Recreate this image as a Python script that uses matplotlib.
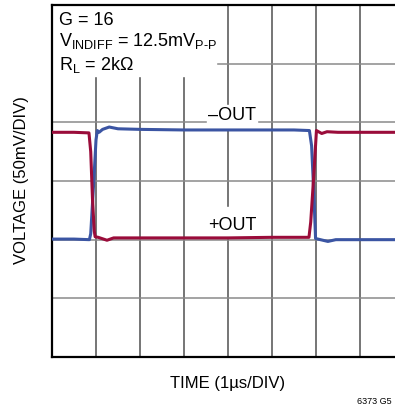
import matplotlib
matplotlib.use("Agg")
import matplotlib.pyplot as plt

plt.rcParams['font.family'] = ['Liberation Sans', 'DejaVu Sans']
plt.rcParams['mathtext.fontset'] = 'custom'
plt.rcParams['mathtext.rm'] = 'Liberation Sans'
plt.rcParams['mathtext.it'] = 'Liberation Sans'

# time in divisions (1us/DIV), voltage in divisions (50mV/DIV)
t_neg = [0.0, 0.5, 0.85, 0.88, 0.95, 1.0, 1.03, 1.07, 1.15, 1.3, 1.5, 2.0, 3.0,
         4.0, 5.0, 5.5, 5.85, 5.9, 5.95, 5.99, 6.1, 6.27, 6.45, 7.0, 8.0]
v_neg = [2.01, 2.01, 2.00, 2.10, 3.00, 3.70, 3.86, 3.83, 3.88, 3.92, 3.89, 3.88, 3.87,
         3.87, 3.87, 3.87, 3.86, 3.60, 2.80, 2.02, 2.00, 1.97, 2.00, 2.00, 2.00]

t_pos = [0.0, 0.5, 0.84, 0.88, 0.92, 0.96, 0.98, 1.05, 1.25, 1.4, 2.0, 3.0,
         4.0, 5.0, 5.5, 5.84, 5.88, 5.95, 6.01, 6.13, 6.25, 6.5, 7.0, 8.0]
v_pos = [3.83, 3.83, 3.82, 3.50, 2.70, 2.15, 2.05, 2.04, 1.99, 2.03, 2.03, 2.03,
         2.03, 2.04, 2.04, 2.04, 2.30, 3.10, 3.86, 3.81, 3.84, 3.83, 3.83, 3.83]

blue = '#3b55a3'
red = '#9a0c3a'

fig = plt.figure(figsize=(3.95, 4.10), dpi=100)
ax = fig.add_axes([52/395, 52/410, 352/395, 352/410])
ax.set_xlim(0, 8)
ax.set_ylim(0, 6)

for x in range(1, 8):
    ax.axvline(x, color='#505050', lw=1.1, zorder=1)
for y in range(1, 6):
    ax.axhline(y, color='#8a8a8a', lw=1.1, zorder=1)

ax.plot(t_neg, v_neg, color=blue, lw=2.2, zorder=3, solid_joinstyle='round')
ax.plot(t_pos, v_pos, color=red, lw=2.2, zorder=4, solid_joinstyle='round')

ax.set_xticks([])
ax.set_yticks([])
for s in ['left', 'bottom', 'top']:
    ax.spines[s].set_linewidth(1.6)
ax.spines['right'].set_visible(False)

# white patches behind the labels
ax.add_patch(plt.Rectangle((0, 4.79), 3.73, 1.21, color='white', zorder=2))
ax.add_patch(plt.Rectangle((3.52, 3.9), 1.15, 0.4, color='white', zorder=2))
ax.add_patch(plt.Rectangle((3.55, 2.05), 1.1, 0.5, color='white', zorder=2))

fs = 13
ax.text(0.16, 5.75, 'G = 16', fontsize=fs, va='center', zorder=5)
ax.text(0.16, 5.41, r'V$_{\text{INDIFF}}$ = 12.5mV$_{\text{P-P}}$',
        fontsize=fs, va='center', zorder=5)
ax.text(0.16, 5.0, r'R$_{\text{L}}$ = 2k$\Omega$',
        fontsize=fs, va='center', zorder=5)
ax.text(4.1, 4.14, '\u2013OUT', fontsize=fs, ha='center', va='center', zorder=5)
ax.text(4.1, 2.25, '+OUT', fontsize=fs, ha='center', va='center', zorder=5)

fig.text(228/395, 1 - 384/410, 'TIME (1\u00b5s/DIV)', fontsize=12, ha='center', va='center')
fig.text(22/395, 1 - 180/410, 'VOLTAGE (50mV/DIV)', fontsize=12, ha='center', va='center',
         rotation=90)
fig.text(392/395, 1 - 402/410, '6373 G5', fontsize=6.5, ha='right', va='center')

fig.savefig('out.png', dpi=100)
